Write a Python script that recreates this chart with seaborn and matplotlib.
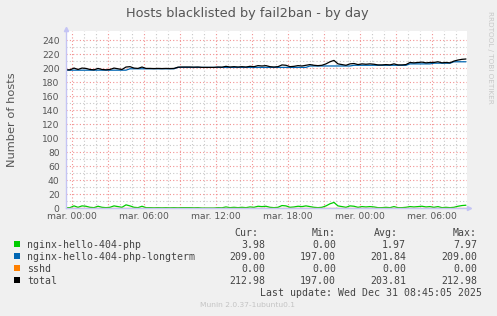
import numpy as np
import pandas as pd
import matplotlib
matplotlib.use("Agg")
import matplotlib.pyplot as plt
import seaborn as sns
from matplotlib.patches import Rectangle

# ---------------- data ----------------
start_hour = -0.5          # hours relative to mar. 00:00
step_hours = 1.0 / 3.0     # 20-minute samples

green_php = [
    0.5, 0.5, 3.0, 1.0, 3.0, 2.5, 1.0, 0.5, 2.5, 1.0,
    0.5, 1.0, 3.0, 2.0, 1.0, 4.5, 3.0, 1.0, 0.5, 2.5,
    0.5, 0.5, 0.3, 0.5, 0.3, 0.5, 0.3, 0.5, 0.3, 0.5,
    0.5, 0.5, 0.3, 0.5, 0.0, 0.0, 0.0, 0.0, 0.5, 0.3,
    1.5, 0.5, 1.0, 0.5, 1.0, 0.5, 1.5, 1.0, 2.5, 2.0,
    2.5, 1.0, 0.5, 1.0, 3.5, 3.0, 1.0, 1.5, 2.5, 2.0,
    3.0, 2.0, 1.0, 0.5, 1.0, 3.0, 6.0, 7.97, 3.0, 2.0,
    1.0, 3.0, 2.5, 1.0, 2.0, 1.5, 2.0, 1.5, 0.5, 0.5,
    1.0, 0.5, 2.0, 0.5, 0.5, 1.0, 2.0, 1.5, 2.0, 2.5,
    1.5, 2.0, 1.0, 2.0, 0.5, 1.0, 0.5, 1.0, 2.5, 3.5,
    3.98,
]
blue_longterm = [
    197, 197, 197, 197, 197, 197, 197, 197, 197, 197,
    197, 197, 197, 197, 197, 197, 199, 199, 199, 199,
    199, 199, 199, 199, 199, 199, 199, 199, 201, 201,
    201, 201, 201, 201, 201, 201, 201, 201, 201, 201,
    201, 201, 201, 201, 201, 201, 201, 201, 201, 201,
    201, 201, 201, 201, 201, 201, 201, 201, 201, 201,
    201, 203, 203, 203, 203, 203, 203, 203, 203, 203,
    203, 203, 204, 204, 204, 204, 204, 204, 204, 204,
    204, 204, 204, 204, 204, 204, 206, 206, 206, 206,
    206, 206, 207, 207, 207, 207, 207, 209, 209, 209,
    209,
]
orange_sshd = [0.0] * len(green_php)

series_names = ["nginx-hello-404-php", "nginx-hello-404-php-longterm", "sshd", "total"]
series_colors = ["#00CC00", "#0066B3", "#FF8000", "#000000"]

legend_cur = ["3.98", "209.00", "0.00", "212.98"]
legend_min = ["0.00", "197.00", "0.00", "197.00"]
legend_avg = ["1.97", "201.84", "0.00", "203.81"]
legend_max = ["7.97", "209.00", "0.00", "212.98"]

xtick_hours = [0, 3, 6, 9, 12, 15, 18, 21, 24, 27, 30]
xtick_labels = ["mar. 00:00", "", "mar. 06:00", "", "mar. 12:00", "",
                "mar. 18:00", "", "mer. 00:00", "", "mer. 06:00"]
ytick_values = list(range(0, 241, 20))

title = "Hosts blacklisted by fail2ban - by day"
ylabel = "Number of hosts"
last_update = "Last update: Wed Dec 31 08:45:05 2025"
munin_version = "Munin 2.0.37-1ubuntu0.1"
side_text = "RRDTOOL / TOBI OETIKER"

# ---------------- frame ----------------
n = len(green_php)
hours = start_hour + step_hours * np.arange(n)
green = np.array(green_php, float)
blue = np.array(blue_longterm, float)
orange = np.array(orange_sshd, float)
total = green + blue + orange

df = pd.concat([
    pd.DataFrame({"hour": hours, "value": vals, "series": name})
    for name, vals in zip(series_names, [green, blue, orange, total])
], ignore_index=True)

sns.set_theme(style="white")
plt.rcParams["font.family"] = ["DejaVu Sans"]

W, H = 497, 316
fig = plt.figure(figsize=(W / 100, H / 100), dpi=100, facecolor="#F0F0F0")

def fx(x):
    return x / W

def fy(y):
    return 1 - y / H

L, R, T, B = 66, 467, 31, 208
ax = fig.add_axes([fx(L), fy(B), fx(R) - fx(L), fy(T) - fy(B)])
ax.set_facecolor("white")

ax.set_xlim(-0.5, 32.92)
ax.set_ylim(0, 253)
ax.set_xticks(xtick_hours)
ax.set_xticklabels(xtick_labels)
ax.set_xticks(np.arange(0, 33, 1), minor=True)
ax.set_yticks(ytick_values)
ax.set_yticks(np.arange(10, 250, 20), minor=True)
ax.grid(which="minor", color="#C8C8C8", linestyle=(0, (1, 2)), linewidth=0.8)
ax.grid(which="major", color="#F29090", linestyle=(0, (1, 2)), linewidth=0.8)
ax.set_axisbelow(True)
ax.tick_params(which="both", length=0, labelsize=6.6, colors="#555555")
ax.tick_params(axis="y", pad=4.5)
ax.tick_params(axis="x", pad=3)

sns.lineplot(data=df, x="hour", y="value", hue="series", hue_order=series_names,
             palette=series_colors, legend=False, linewidth=0.9, ax=ax,
             estimator=None, sort=False)
ax.set_xlabel("")
ax.set_ylabel(ylabel, fontsize=8.2, color="#555555")
ax.yaxis.set_label_coords((17 - L) / (R - L), 0.5)

for side in ["top", "right"]:
    ax.spines[side].set_visible(False)
for side in ["left", "bottom"]:
    ax.spines[side].set_color("#C4C4F4")
    ax.spines[side].set_linewidth(1)
ax.plot([0], [1.01], marker="^", markersize=3, color="#C4C4F4", transform=ax.transAxes, clip_on=False)
ax.plot([1.006], [0], marker=">", markersize=3, color="#C4C4F4", transform=ax.transAxes, clip_on=False)

fig.text(fx(247), fy(13), title, ha="center", va="center", fontsize=9.3, color="#555555")
fig.text(fx(490), fy(57), side_text, ha="center", va="center", rotation=270,
         fontsize=5.2, color="#C8C8C8")

mono = "DejaVu Sans Mono"
ms = 7.1
tc = "#444444"
hdr_y = 233
fig.text(fx(258), fy(hdr_y), "Cur:", ha="right", va="center", family=mono, fontsize=ms, color=tc)
fig.text(fx(336), fy(hdr_y), "Min:", ha="right", va="center", family=mono, fontsize=ms, color=tc)
fig.text(fx(398), fy(hdr_y), "Avg:", ha="right", va="center", family=mono, fontsize=ms, color=tc)
fig.text(fx(477), fy(hdr_y), "Max:", ha="right", va="center", family=mono, fontsize=ms, color=tc)

row_ys = [244.5, 256.5, 268.5, 280.5]
for i, name in enumerate(series_names):
    y = row_ys[i]
    fig.patches.append(Rectangle((fx(14), fy(y + 2.8)), fx(6), 6 / H, transform=fig.transFigure,
                                 facecolor=series_colors[i], edgecolor="none"))
    fig.text(fx(27), fy(y), name, ha="left", va="center", family=mono, fontsize=ms, color=tc)
    fig.text(fx(265), fy(y), legend_cur[i], ha="right", va="center", family=mono, fontsize=ms, color=tc)
    fig.text(fx(336), fy(y), legend_min[i], ha="right", va="center", family=mono, fontsize=ms, color=tc)
    fig.text(fx(406), fy(y), legend_avg[i], ha="right", va="center", family=mono, fontsize=ms, color=tc)
    fig.text(fx(477), fy(y), legend_max[i], ha="right", va="center", family=mono, fontsize=ms, color=tc)

fig.text(fx(482), fy(292.5), last_update, ha="right", va="center", family=mono, fontsize=ms, color=tc)
fig.text(fx(248), fy(305), munin_version, ha="center", va="center", fontsize=5.4, color="#C4C4C4")

fig.savefig("out.png", dpi=100, facecolor=fig.get_facecolor())
